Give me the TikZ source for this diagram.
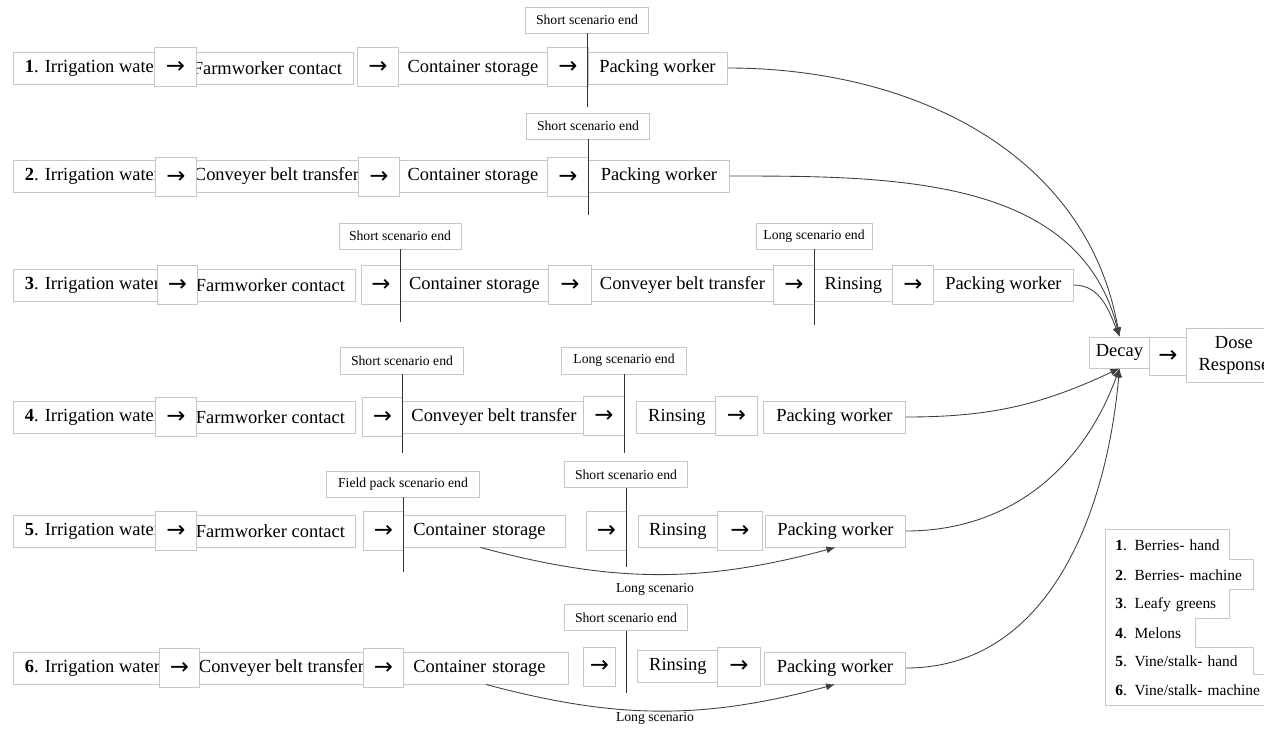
\documentclass[tikz,border=0pt]{standalone}
\usepackage{fontspec}
\setmainfont{Liberation Serif}
\newfontfamily\arrowfont{DejaVu Sans}
\usetikzlibrary{arrows.meta}

\newcommand{\stepto}{{\arrowfont\fontsize{13}{13}\selectfont →}}

\tikzset{
  boxline/.style={draw=black!22, line width=0.5pt},
  stepbox/.style={boxline, fill=white, anchor=west, inner sep=0pt, minimum height=0.64cm, font=\fontsize{10.5}{12.5}\selectfont},
  arrowbox/.style={boxline, fill=white, anchor=west, inner sep=0pt, minimum height=0.78cm},
  endlabel/.style={boxline, fill=white, inner sep=0pt, minimum height=0.52cm, font=\fontsize{7.8}{9}\selectfont},
  endline/.style={black!80, line width=0.5pt},
  flow/.style={black!75, line width=0.5pt, -{Latex[length=1.8mm,width=1.4mm]}},
  longtext/.style={inner sep=0pt, font=\fontsize{7.8}{9}\selectfont},
  legbox/.style={fill=white, anchor=west, inner xsep=0.2cm, inner ysep=0pt, align=left, font=\fontsize{8.8}{10}\selectfont},
}

\begin{document}
\begin{tikzpicture}[x=0.02cm, y=0.02cm]
  \useasboundingbox (0,0) rectangle (1264,-728);

  % Row 1: berries by hand
  \node[stepbox, minimum width=3.16cm] (r1water) at (13,-68) {\textbf{1}. Irrigation water};
  \node[stepbox, minimum width=3.44cm] (r1farm) at (181,-68) {Farmworker contact};
  \node[stepbox, minimum width=2.98cm] (r1cont) at (398,-68) {Container storage};
  \node[stepbox, minimum width=2.80cm] (r1pack) at (587,-68) {Packing worker};
  \node[arrowbox, minimum width=0.84cm] (r1a1) at (154,-67) {\stepto};
  \node[arrowbox, minimum width=0.82cm] (r1a2) at (357,-67) {\stepto};
  \node[arrowbox, minimum width=0.82cm] (r1a3) at (547,-67) {\stepto};
  \node[endlabel, minimum width=2.46cm] (r1short) at (587,-20) {Short scenario end};
  \draw[endline] (r1short.south) -- ++(0,-74);

  % Row 2: berries by machine
  \node[stepbox, minimum width=3.16cm] (r2water) at (13,-176) {\textbf{2}. Irrigation water};
  \node[stepbox, minimum width=3.72cm] (r2conv) at (183,-176) {Conveyer belt transfer};
  \node[stepbox, minimum width=2.98cm] (r2cont) at (398,-176) {Container storage};
  \node[stepbox, minimum width=2.82cm] (r2pack) at (588,-176) {Packing worker};
  \node[arrowbox, minimum width=0.82cm] (r2a1) at (155,-177) {\stepto};
  \node[arrowbox, minimum width=0.82cm] (r2a2) at (358,-177) {\stepto};
  \node[arrowbox, minimum width=0.82cm] (r2a3) at (547,-177) {\stepto};
  \node[endlabel, minimum width=2.46cm] (r2short) at (588,-126) {Short scenario end};
  \draw[endline] (r2short.south) -- ++(0,-76);

  % Row 3: leafy greens
  \node[stepbox, minimum width=3.16cm] (r3water) at (13,-285) {\textbf{3}. Irrigation water};
  \node[stepbox, minimum width=3.40cm] (r3farm) at (185,-285) {Farmworker contact};
  \node[stepbox, minimum width=2.96cm] (r3cont) at (400,-285) {Container storage};
  \node[stepbox, minimum width=3.64cm] (r3conv) at (591,-285) {Conveyer belt transfer};
  \node[stepbox, minimum width=1.56cm] (r3rins) at (814,-285) {Rinsing};
  \node[stepbox, minimum width=2.80cm] (r3pack) at (933,-285) {Packing worker};
  \node[arrowbox, minimum width=0.80cm] (r3a1) at (157,-285) {\stepto};
  \node[arrowbox, minimum width=0.78cm] (r3a2) at (361,-285) {\stepto};
  \node[arrowbox, minimum width=0.86cm] (r3a3) at (548,-285) {\stepto};
  \node[arrowbox, minimum width=0.82cm] (r3a4) at (773,-285) {\stepto};
  \node[arrowbox, minimum width=0.82cm] (r3a5) at (892,-285) {\stepto};
  \node[endlabel, minimum width=2.44cm] (r3short) at (400,-236) {Short scenario end};
  \node[endlabel, minimum width=2.32cm] (r3long) at (814,-236) {Long scenario end};
  \draw[endline] (r3short.south) -- ++(0,-73);
  \draw[endline] (r3long.south) -- ++(0,-76);

  % Row 4: melons
  \node[stepbox, minimum width=3.16cm] (r4water) at (13,-417) {\textbf{4}. Irrigation water};
  \node[stepbox, minimum width=3.40cm] (r4farm) at (185,-417) {Farmworker contact};
  \node[stepbox, minimum width=3.66cm] (r4conv) at (402,-417) {Conveyer belt transfer};
  \node[stepbox, minimum width=1.62cm] (r4rins) at (636,-417) {Rinsing};
  \node[stepbox, minimum width=2.84cm] (r4pack) at (763,-417) {Packing worker};
  \node[arrowbox, minimum width=0.82cm] (r4a1) at (155,-417) {\stepto};
  \node[arrowbox, minimum width=0.80cm] (r4a2) at (362,-417) {\stepto};
  \node[arrowbox, minimum width=0.82cm] (r4a3) at (583,-416) {\stepto};
  \node[arrowbox, minimum width=0.84cm] (r4a4) at (715,-416) {\stepto};
  \node[endlabel, minimum width=2.46cm, minimum height=0.54cm] (r4short) at (402,-360.5) {Short scenario end};
  \node[endlabel, minimum width=2.50cm, minimum height=0.54cm] (r4long) at (624,-360.5) {Long scenario end};
  \draw[endline] (r4short.south) -- ++(0,-79);
  \draw[endline] (r4long.south) -- ++(0,-79);

  % Row 5: vine/stalk by hand
  \node[stepbox, minimum width=3.16cm] (r5water) at (13,-531) {\textbf{5}. Irrigation water};
  \node[stepbox, minimum width=3.40cm] (r5farm) at (185,-531) {Farmworker contact};
  \node[stepbox, inner xsep=0.2cm, text width=2.84cm, align=left] (r5cont) at (403,-531) {Container storage};
  \node[stepbox, minimum width=1.58cm] (r5rins) at (638,-531) {Rinsing};
  \node[stepbox, minimum width=2.80cm] (r5pack) at (765,-531) {Packing worker};
  \node[arrowbox, minimum width=0.82cm] (r5a1) at (155,-531) {\stepto};
  \node[arrowbox, minimum width=0.80cm] (r5a2) at (363,-531) {\stepto};
  \node[arrowbox, minimum width=0.80cm] (r5a3) at (586,-531) {\stepto};
  \node[arrowbox, minimum width=0.90cm] (r5a4) at (717,-531) {\stepto};
  \node[endlabel, minimum width=3.06cm] (r5field) at (403,-484) {Field pack scenario end};
  \node[endlabel, minimum width=2.46cm] (r5short) at (626,-474.5) {Short scenario end};
  \draw[endline] (r5field.south) -- ++(0,-75);
  \draw[endline] (r5short.south) -- ++(0,-79);
  \draw[flow] ([xshift=-0.08cm]r5cont.south) to[out=-15, in=-165] (r5pack.south);
  \node[longtext] (r5longtxt) at (655,-589) {Long scenario};

  % Row 6: vine/stalk by machine
  \node[stepbox, minimum width=3.16cm] (r6water) at (13,-668) {\textbf{6}. Irrigation water};
  \node[stepbox, minimum width=3.72cm] (r6conv) at (188,-668) {Conveyer belt transfer};
  \node[stepbox, inner xsep=0.2cm, text width=2.90cm, align=left] (r6cont) at (403,-668) {Container storage};
  \node[stepbox, minimum width=1.62cm] (r6rins) at (637,-666) {Rinsing};
  \node[stepbox, minimum width=2.82cm] (r6pack) at (764,-668) {Packing worker};
  \node[arrowbox, minimum width=0.80cm] (r6a1) at (159,-668) {\stepto};
  \node[arrowbox, minimum width=0.80cm] (r6a2) at (363,-668) {\stepto};
  \node[arrowbox, minimum width=0.64cm] (r6a3) at (583,-666.5) {\stepto};
  \node[arrowbox, minimum width=0.86cm] (r6a4) at (717,-666.5) {\stepto};
  \node[endlabel, minimum width=2.46cm] (r6short) at (626,-617.5) {Short scenario end};
  \draw[endline] (r6short.south) -- ++(0,-62);
  \draw[flow] (r6cont.south) to[out=-15, in=-165] (r6pack.south);
  \node[longtext] (r6longtxt) at (655,-718) {Long scenario};

  % Decay and dose response
  \node[arrowbox, minimum width=0.74cm, minimum height=0.76cm] (da) at (1149,-356) {\stepto};
  \node[stepbox, minimum width=1.20cm, minimum height=0.62cm] (decay) at (1089,-352.5) {Decay};
  \node[stepbox, minimum width=1.90cm, minimum height=1.08cm, align=center] (dose) at (1186,-355) {Dose\\Response};

  % Every scenario ends in decay
  \draw[flow] (r1pack.east) to[out=0, in=100] (decay.north);
  \draw[flow] (r2pack.east) to[out=0, in=104] (decay.north);
  \draw[flow] (r3pack.east) to[out=0, in=112] (decay.north);
  \draw[flow] (r4pack.east) to[out=0, in=-155] (decay.south);
  \draw[flow] (r5pack.east) to[out=0, in=-110] (decay.south);
  \draw[flow] (r6pack.east) to[out=0, in=-95] (decay.south);

  % Legend
  \node[legbox, text width=2.08cm, minimum height=0.60cm] (leg1) at (1105,-545) {\mbox{\textbf{1}. Berries- hand}};
  \node[legbox, text width=2.56cm, minimum height=0.60cm] (leg2) at (1105,-575) {\mbox{\textbf{2}. Berries- machine}};
  \node[legbox, text width=2.08cm, minimum height=0.58cm] (leg3) at (1105,-604.5) {\mbox{\textbf{3}. Leafy greens}};
  \node[legbox, text width=1.40cm, minimum height=0.58cm] (leg4) at (1105,-633.5) {\mbox{\textbf{4}. Melons}};
  \node[legbox, text width=2.56cm, minimum height=0.54cm] (leg5) at (1105,-661.5) {\mbox{\textbf{5}. Vine/stalk- hand}};
  \node[legbox, text width=3.00cm, minimum height=0.60cm] (leg6) at (1105,-690) {\mbox{\textbf{6}. Vine/stalk- machine}};
  \draw[boxline] (leg1.north west) -- (leg1.north east) |- (leg2.north east) |- (leg3.north east)
    |- (leg4.north east) |- (leg5.north east) |- (leg6.north east) |- (leg6.south west) -- cycle;

\end{tikzpicture}
\end{document}
